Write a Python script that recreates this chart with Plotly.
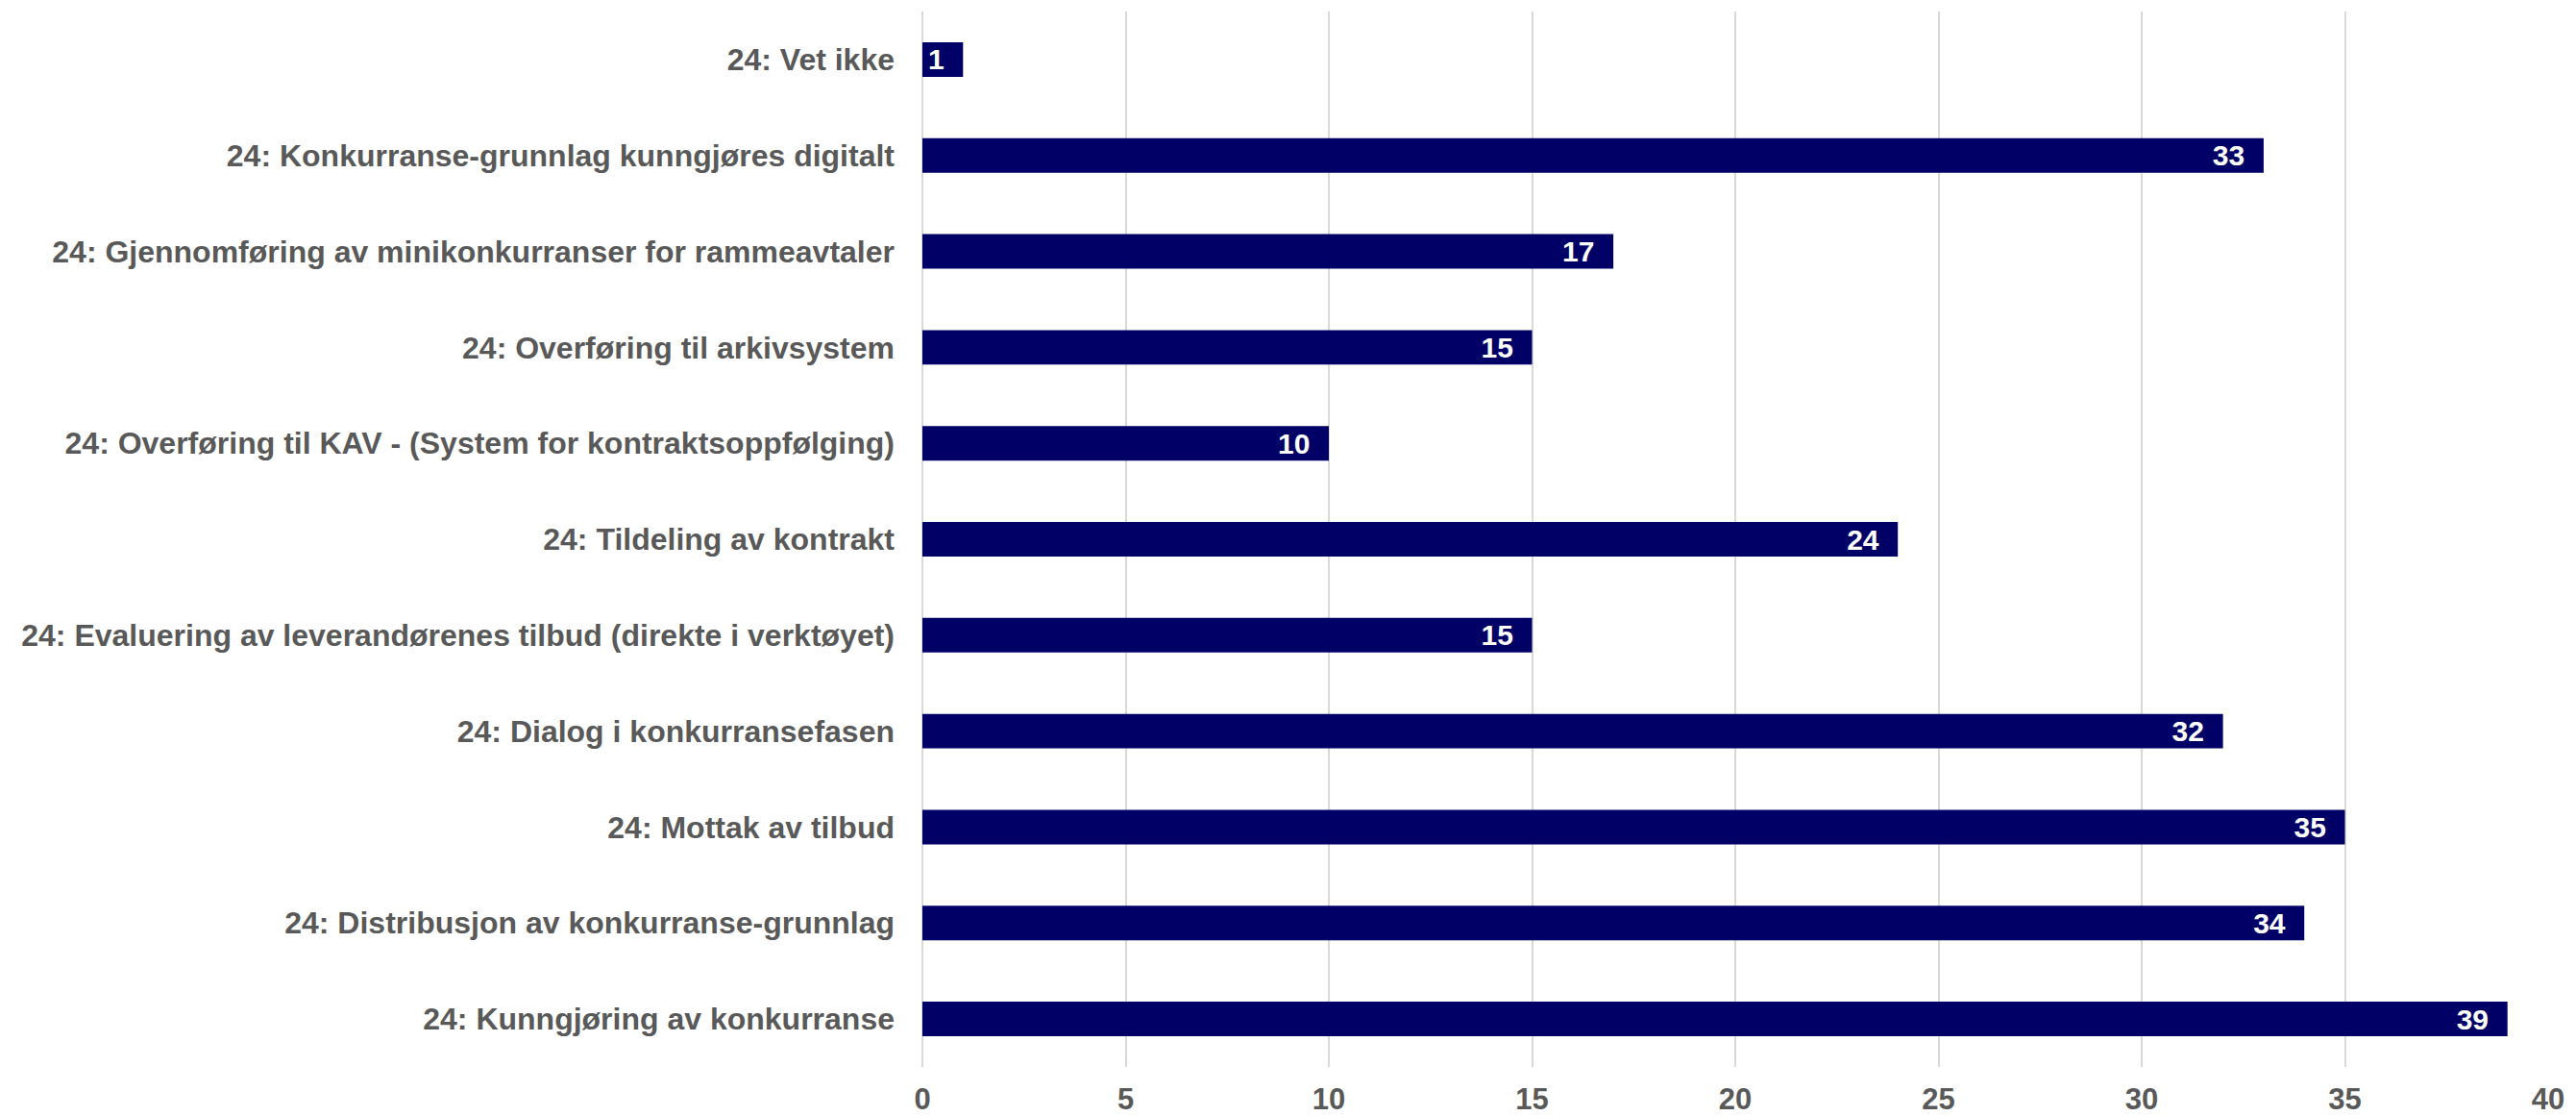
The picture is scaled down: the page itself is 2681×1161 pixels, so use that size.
import plotly.graph_objects as go

categories = [
    "24: Vet ikke",
    "24: Konkurranse-grunnlag kunngjøres digitalt",
    "24: Gjennomføring av minikonkurranser for rammeavtaler",
    "24: Overføring til arkivsystem",
    "24: Overføring til KAV - (System for kontraktsoppfølging)",
    "24: Tildeling av kontrakt",
    "24: Evaluering av leverandørenes tilbud (direkte i verktøyet)",
    "24: Dialog i konkurransefasen",
    "24: Mottak av tilbud",
    "24: Distribusjon av konkurranse-grunnlag",
    "24: Kunngjøring av konkurranse",
]
values = [1, 33, 17, 15, 10, 24, 15, 32, 35, 34, 39]
x_ticks = [0, 5, 10, 15, 20, 25, 30, 35, 40]

FONT = "Liberation Sans, Arial, sans-serif"
GRAY = "#595959"

fig = go.Figure(go.Bar(
    y=categories,
    x=values,
    orientation="h",
    marker=dict(color="#000066", line=dict(width=0)),
    text=[f"{v}\u00a0\u00a0" for v in values],
    textposition="inside",
    insidetextanchor="end",
    textangle=0,
    textfont=dict(family=FONT, size=30, color="white", weight="bold"),
    cliponaxis=False,
))

fig.update_layout(
    width=2681, height=1161,
    margin=dict(l=960, r=29, t=12, b=51, autoexpand=False),
    paper_bgcolor="white", plot_bgcolor="white",
    bargap=0.64,
    showlegend=False,
    uniformtext=dict(minsize=30, mode="show"),
    font=dict(family=FONT, color=GRAY),
)
fig.update_xaxes(
    range=[0, 40], tickvals=x_ticks, ticktext=[str(t) for t in x_ticks],
    showgrid=True, gridcolor="#d9d9d9", gridwidth=2,
    zeroline=True, zerolinecolor="#d9d9d9", zerolinewidth=2,
    showline=False, ticks="", automargin=False,
    tickfont=dict(family=FONT, size=31, color=GRAY, weight="bold"),
    ticklabelstandoff=12,
)
fig.update_yaxes(
    autorange="reversed", showgrid=False, showline=False, ticks="",
    automargin=False,
    tickfont=dict(family=FONT, size=32, color=GRAY, weight="bold"),
    ticklabelstandoff=28,
)

fig.write_html(
    "out.html",
    config={"displayModeBar": False},
    post_script="document.body.style.margin='0';document.body.style.overflow='hidden';",
)
